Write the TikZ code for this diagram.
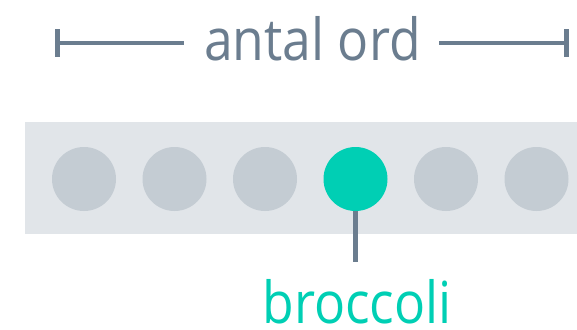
\documentclass[tikz,border=0pt]{standalone}
\usepackage{fontspec}
\setmainfont[FakeStretch=0.89]{Open Sans}
\usetikzlibrary{arrows.meta}
\definecolor{slate}{HTML}{6B7D8F}
\definecolor{bandgray}{HTML}{E1E5E9}
\definecolor{dotgray}{HTML}{C4CCD3}
\definecolor{teal}{HTML}{00CFB4}
\begin{document}
\begin{tikzpicture}[x=1pt,y=-1pt,
  token/.style={circle,fill=dotgray,minimum size=64pt,inner sep=0pt},
  chosen/.style={token,fill=teal},
  rule/.style={draw=slate,line width=4pt},
  label/.style={anchor=base,inner sep=0pt,text depth=0pt,font=\fontsize{58}{60}\selectfont}]
\useasboundingbox (0,0) rectangle (577,329);
% span marker
\node[label,text=slate] (title) at (312.5,60.5) {antal ord};
\coordinate (l0) at (55,43);
\coordinate (l1) at (184,43);
\coordinate (r0) at (439,43);
\coordinate (r1) at (569,43);
\draw[rule,{Bar[width=27pt,line width=5pt]}-] (l0) -- (l1);
\draw[rule,-{Bar[width=27pt,line width=5pt]}] (r0) -- (r1);
% token strip
\fill[bandgray] (25,122) rectangle (577,234);
\node[token] (c1) at (84,179) {};
\node[token] (c2) at (174.5,179) {};
\node[token] (c3) at (265,179) {};
\node[chosen] (c4) at (355.5,179) {};
\node[token] (c5) at (446,179) {};
\node[token] (c6) at (536.5,179) {};
% pointer to the chosen token
\coordinate (tip) at (355.5,262);
\draw[rule,line width=4.5pt] (c4.south) -- (tip);
\node[label,text=teal] (word) at (357,323.5) {broccoli};
\end{tikzpicture}
\end{document}
